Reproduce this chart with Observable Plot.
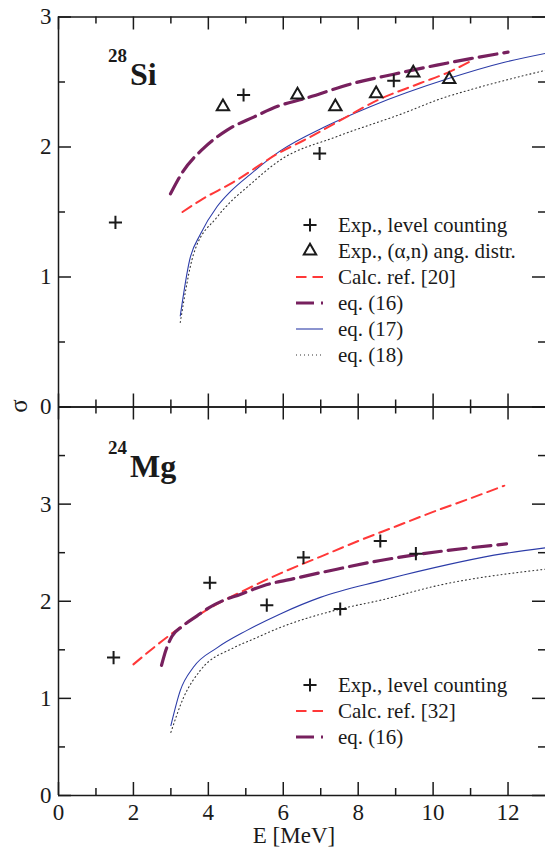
<!DOCTYPE html>
<html><head><meta charset="utf-8">
<script src="https://cdn.jsdelivr.net/npm/d3@7"></script>
<script src="https://cdn.jsdelivr.net/npm/@observablehq/plot@0.6"></script>
<style>
body{margin:0;background:#fff;}
#wrap{position:relative;width:545px;height:848px;overflow:hidden;background:#fff;}
#wrap svg{position:absolute;left:0;}
</style></head><body><div id="wrap"></div>
<script>
// ---------- data ----------
const xMajor = [0, 2, 4, 6, 8, 10, 12];
const xMinor = [1, 3, 5, 7, 9, 11];
const xLabels = [0, 2, 4, 6, 8, 10, 12];
const siYMajor = [0, 1, 2, 3];
const siYMinor = [0.5, 1.5, 2.5];
const siYLabels = [0, 1, 2, 3];
const mgYMajor = [0, 1, 2, 3, 4];
const mgYMinor = [0.5, 1.5, 2.5, 3.5];
const mgYLabels = [0, 1, 2, 3];

// 28Si
const siCountE = [1.52, 4.94, 6.97, 8.95];
const siCountS = [1.42, 2.40, 1.95, 2.51];
const siAngE = [4.39, 6.38, 7.39, 8.48, 9.47, 10.43];
const siAngS = [2.31, 2.40, 2.31, 2.41, 2.57, 2.52];
const siCalcE = [3.31, 3.79, 4.67, 5.92, 6.54, 7.43, 8.59, 9.65, 10.45, 11.0];
const siCalcS = [1.50, 1.59, 1.73, 1.96, 2.05, 2.19, 2.37, 2.49, 2.58, 2.66];
const siEq16E = [2.99, 3.32, 3.87, 4.50, 5.21, 5.92, 6.54, 7.87, 8.95, 10.1, 11.0, 12.0];
const siEq16S = [1.64, 1.81, 1.99, 2.13, 2.23, 2.32, 2.37, 2.49, 2.56, 2.63, 2.68, 2.73];
const siEq17E = [3.25, 3.50, 3.79, 4.23, 4.60, 5.12, 5.92, 7.07, 8.32, 10.45, 11.88, 13.0];
const siEq17S = [0.70, 1.13, 1.33, 1.54, 1.66, 1.79, 1.97, 2.15, 2.31, 2.53, 2.65, 2.72];
const siEq18E = [3.25, 3.61, 4.23, 4.60, 5.03, 5.92, 7.43, 9.21, 10.19, 10.99, 13.0];
const siEq18S = [0.65, 1.18, 1.46, 1.58, 1.69, 1.90, 2.08, 2.26, 2.37, 2.44, 2.59];

// 24Mg
const mgCountE = [1.47, 4.04, 5.56, 6.54, 7.52, 8.59, 9.54];
const mgCountS = [1.42, 2.19, 1.96, 2.45, 1.92, 2.62, 2.49];
const mgCalcE = [2.0, 3.0, 4.0, 5.0, 6.0, 7.0, 8.0, 9.0, 10.0, 11.0, 11.9];
const mgCalcS = [1.35, 1.66, 1.92, 2.12, 2.30, 2.46, 2.62, 2.77, 2.92, 3.06, 3.19];
const mgEq16E = [2.75, 2.87, 3.03, 3.30, 3.70, 4.0, 4.41, 4.85, 5.47, 6.36, 7.43, 8.59, 9.56, 11.96];
const mgEq16S = [1.34, 1.50, 1.64, 1.74, 1.85, 1.93, 2.01, 2.07, 2.16, 2.24, 2.33, 2.42, 2.48, 2.59];
const mgEq17E = [3.0, 3.25, 3.6, 4.23, 5.03, 5.92, 6.99, 8.59, 9.21, 11.88, 13.0];
const mgEq17S = [0.72, 1.08, 1.32, 1.52, 1.70, 1.87, 2.04, 2.21, 2.27, 2.49, 2.55];
const mgEq18E = [3.0, 3.34, 3.79, 4.67, 5.2, 5.92, 7.52, 8.59, 10.1, 13.0];
const mgEq18S = [0.65, 1.01, 1.29, 1.52, 1.61, 1.73, 1.92, 2.01, 2.16, 2.33];

// ---------- styles ----------
const FONT = "'Liberation Serif','Times New Roman',Times,serif";
const INK = "#1a1a1a";
const RED = "#ff3838";
const PURPLE = "#77205e";
const BLUE = "#2c3ca8";
const DOT = "#333333";
const PLUS_R = 4.3, TRI_R = 5.9;
const SVG_STYLE = "background:transparent;overflow:visible;font-family:'Liberation Serif','Times New Roman',Times,serif;";

const pts = (E, S) => E.map((e, i) => ({E: e, S: S[i]}));

const styleCalc = {stroke: RED, strokeWidth: 2, strokeDasharray: "10.5,6"};
const styleEq16 = {stroke: PURPLE, strokeWidth: 3.2, strokeDasharray: "18,7"};
const styleEq17 = {stroke: BLUE, strokeWidth: 1.1};
const styleEq18 = {stroke: DOT, strokeWidth: 1.1, strokeDasharray: "1,3"};

function framing(frameW, frameH, yTop, yMajor, yMinor) {
  const s = {stroke: INK, strokeWidth: 1.5};
  return [
    Plot.ruleX([0], s),
    Plot.ruleY([0], s),
    Plot.ruleY([yTop], s),
    Plot.ruleX(xMajor, {...s, insetTop: frameH - 13}),
    Plot.ruleX(xMinor, {...s, insetTop: frameH - 7}),
    Plot.ruleX(xMajor, {...s, insetBottom: frameH - 13}),
    Plot.ruleX(xMinor, {...s, insetBottom: frameH - 7}),
    Plot.ruleY(yMajor, {...s, insetRight: frameW - 13}),
    Plot.ruleY(yMinor, {...s, insetRight: frameW - 7}),
    Plot.ruleY(yMajor, {...s, insetLeft: frameW - 13}),
    Plot.ruleY(yMinor, {...s, insetLeft: frameW - 7})
  ];
}

const lineOpts = (st) => ({x: "E", y: "S", curve: "monotone-x", ...st});
const plusOpts = {x: "E", y: "S", symbol: "plus", r: PLUS_R, fill: "none", stroke: INK, strokeWidth: 2};
const triOpts = {x: "E", y: "S", symbol: "triangle2", r: TRI_R, fill: "none", stroke: INK, strokeWidth: 2};

function addLegend(svg, items, y0) {
  const g = d3.select(svg).append("g")
    .attr("font-family", FONT).attr("font-size", 21).attr("fill", INK).attr("text-anchor", "start");
  items.forEach((it, i) => {
    const cy = y0 + i * 26;
    if (it.symbol) {
      g.append("path").attr("transform", `translate(310,${cy})`)
        .attr("d", d3.symbol(it.symbol, Math.PI * it.r * it.r)())
        .attr("fill", "none").attr("stroke", INK).attr("stroke-width", 2);
    } else {
      g.append("line").attr("x1", 296).attr("x2", 323).attr("y1", cy).attr("y2", cy)
        .attr("stroke", it.st.stroke).attr("stroke-width", it.st.strokeWidth)
        .attr("stroke-dasharray", it.st.strokeDasharray || null);
    }
    g.append("text").attr("x", 338).attr("y", cy + 6.7).text(it.label);
  });
}

function addNucleus(svg, mass, name, yBase) {
  const g = d3.select(svg).append("g").attr("font-family", FONT).attr("font-weight", "bold")
    .attr("fill", INK).attr("text-anchor", "start");
  g.append("text").attr("x", 108).attr("y", yBase - 22.5).attr("font-size", 19).text(mass);
  g.append("text").attr("x", 130).attr("y", yBase).attr("font-size", 32).text(name);
}

const wrap = document.getElementById("wrap");
const axisText = {tickSize: 0, fontSize: 23, fontFamily: FONT, color: INK, label: null, tickFormat: "d"};

// ---------- top panel: 28Si ----------
const topH = 420, topMT = 16.5, topMB = 13.5;
const siSvg = Plot.plot({
  width: 545, height: topH,
  marginLeft: 58, marginRight: 0, marginTop: topMT, marginBottom: topMB,
  x: {domain: [0, 13], axis: null},
  y: {domain: [0, 3]},
  style: SVG_STYLE,
  marks: [
    ...framing(545 - 58, topH - topMT - topMB, 3, siYMajor, siYMinor),
    Plot.axisY({...axisText, ticks: siYLabels, tickPadding: 7}),
    Plot.line(pts(siEq18E, siEq18S), lineOpts(styleEq18)),
    Plot.line(pts(siEq17E, siEq17S), lineOpts(styleEq17)),
    Plot.line(pts(siCalcE, siCalcS), lineOpts(styleCalc)),
    Plot.line(pts(siEq16E, siEq16S), lineOpts(styleEq16)),
    Plot.dot(pts(siCountE, siCountS), plusOpts),
    Plot.dot(pts(siAngE, siAngS), triOpts)
  ]
});
siSvg.style.top = "0px";
addNucleus(siSvg, "28", "Si", 84.5);
addLegend(siSvg, [
  {symbol: d3.symbolPlus, r: PLUS_R, label: "Exp., level counting"},
  {symbol: d3.symbolTriangle2, r: TRI_R, label: "Exp., (α,n) ang. distr."},
  {st: styleCalc, label: "Calc. ref. [20]"},
  {st: styleEq16, label: "eq. (16)"},
  {st: styleEq17, label: "eq. (17)"},
  {st: styleEq18, label: "eq. (18)"}
], 225);
d3.select(siSvg).append("text")
  .attr("transform", "translate(27,406) rotate(-90)")
  .attr("text-anchor", "middle").attr("font-family", FONT).attr("font-size", 25).attr("fill", INK)
  .text("σ");
wrap.appendChild(siSvg);

// ---------- bottom panel: 24Mg ----------
const botTop = 390, botH = 458, botMT = 16.5, botMB = 53;
const mgSvg = Plot.plot({
  width: 545, height: botH,
  marginLeft: 58, marginRight: 0, marginTop: botMT, marginBottom: botMB,
  x: {domain: [0, 13]},
  y: {domain: [0, 4]},
  style: SVG_STYLE,
  marks: [
    ...framing(545 - 58, botH - botMT - botMB, 4, mgYMajor, mgYMinor),
    Plot.axisY({...axisText, ticks: mgYLabels, tickPadding: 7}),
    Plot.axisX({...axisText, ticks: xLabels, tickPadding: 8}),
    Plot.line(pts(mgEq18E, mgEq18S), lineOpts(styleEq18)),
    Plot.line(pts(mgEq17E, mgEq17S), lineOpts(styleEq17)),
    Plot.line(pts(mgCalcE, mgCalcS), lineOpts(styleCalc)),
    Plot.line(pts(mgEq16E, mgEq16S), lineOpts(styleEq16)),
    Plot.dot(pts(mgCountE, mgCountS), plusOpts)
  ]
});
mgSvg.style.top = botTop + "px";
addNucleus(mgSvg, "24", "Mg", 476.5 - botTop);
addLegend(mgSvg, [
  {symbol: d3.symbolPlus, r: PLUS_R, label: "Exp., level counting"},
  {st: styleCalc, label: "Calc. ref. [32]"},
  {st: styleEq16, label: "eq. (16)"}
], 685 - botTop);
d3.select(mgSvg).append("text")
  .attr("x", 294).attr("y", 843 - botTop)
  .attr("text-anchor", "middle").attr("font-family", FONT).attr("font-size", 23).attr("fill", INK)
  .text("E [MeV]");
wrap.appendChild(mgSvg);
</script></body></html>
